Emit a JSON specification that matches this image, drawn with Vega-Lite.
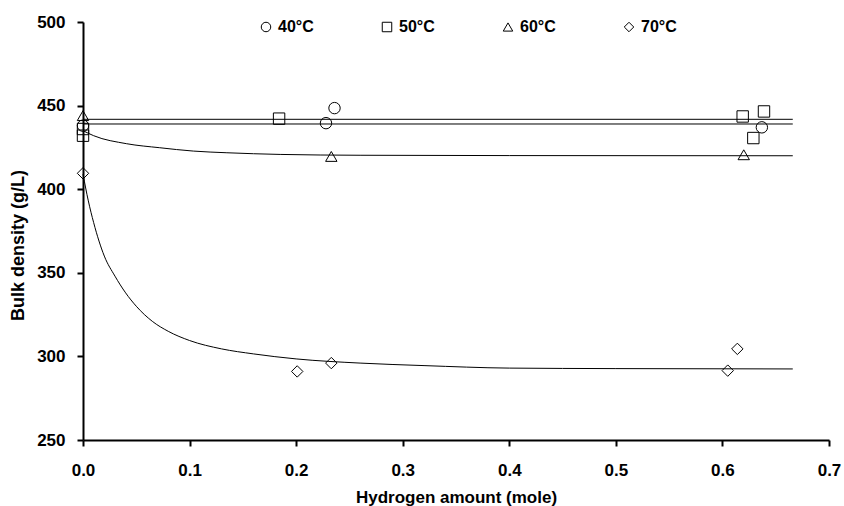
{
  "$schema": "https://vega.github.io/schema/vega-lite/v6.json",
  "width": 746,
  "height": 418,
  "autosize": {"type": "none"},
  "padding": {"left": 83, "top": 22, "right": 15, "bottom": 66},
  "background": "white",
  "config": {
    "view": {"stroke": null},
    "font": "Liberation Sans"
  },
  "datasets": {
    "points": [
      {"series": "40°C", "x": 0, "y": 438},
      {"series": "40°C", "x": 0.228, "y": 439.5},
      {"series": "40°C", "x": 0.236, "y": 448.5},
      {"series": "40°C", "x": 0.637, "y": 437},
      {"series": "50°C", "x": 0, "y": 436},
      {"series": "50°C", "x": 0, "y": 432},
      {"series": "50°C", "x": 0.184, "y": 442.2},
      {"series": "50°C", "x": 0.619, "y": 443.5},
      {"series": "50°C", "x": 0.639, "y": 446.5},
      {"series": "50°C", "x": 0.629, "y": 430.6},
      {"series": "60°C", "x": 0, "y": 444},
      {"series": "60°C", "x": 0.233, "y": 419.6},
      {"series": "60°C", "x": 0.62, "y": 420.6},
      {"series": "70°C", "x": 0, "y": 409.5},
      {"series": "70°C", "x": 0.201, "y": 291},
      {"series": "70°C", "x": 0.233, "y": 296},
      {"series": "70°C", "x": 0.614, "y": 304.5},
      {"series": "70°C", "x": 0.605, "y": 291.5}
    ],
    "fits": [
      {"series": "40°C", "x": 0, "y": 441.8},
      {"series": "40°C", "x": 0.666, "y": 441.8},
      {"series": "50°C", "x": 0, "y": 439},
      {"series": "50°C", "x": 0.666, "y": 439},
      {"series": "60°C", "x": 0, "y": 435},
      {"series": "60°C", "x": 0.01, "y": 432},
      {"series": "60°C", "x": 0.041, "y": 427.2},
      {"series": "60°C", "x": 0.072, "y": 424.8},
      {"series": "60°C", "x": 0.1035, "y": 422.8},
      {"series": "60°C", "x": 0.135, "y": 421.8},
      {"series": "60°C", "x": 0.185, "y": 420.8},
      {"series": "60°C", "x": 0.26, "y": 420.3},
      {"series": "60°C", "x": 0.4, "y": 420.1},
      {"series": "60°C", "x": 0.666, "y": 420},
      {"series": "70°C", "x": 0, "y": 409},
      {"series": "70°C", "x": 0.005, "y": 393},
      {"series": "70°C", "x": 0.01, "y": 380},
      {"series": "70°C", "x": 0.015, "y": 369},
      {"series": "70°C", "x": 0.02, "y": 360},
      {"series": "70°C", "x": 0.03, "y": 348},
      {"series": "70°C", "x": 0.04, "y": 338},
      {"series": "70°C", "x": 0.05, "y": 330},
      {"series": "70°C", "x": 0.065, "y": 321},
      {"series": "70°C", "x": 0.08, "y": 315},
      {"series": "70°C", "x": 0.1, "y": 309.5},
      {"series": "70°C", "x": 0.13, "y": 304.5},
      {"series": "70°C", "x": 0.16, "y": 301.5},
      {"series": "70°C", "x": 0.2, "y": 298.5},
      {"series": "70°C", "x": 0.26, "y": 296},
      {"series": "70°C", "x": 0.32, "y": 294.5},
      {"series": "70°C", "x": 0.4, "y": 293},
      {"series": "70°C", "x": 0.5, "y": 292.7},
      {"series": "70°C", "x": 0.666, "y": 292.5}
    ]
  },
  "encoding": {
    "x": {
      "field": "x",
      "type": "quantitative",
      "scale": {"domain": [0, 0.7], "nice": false, "zero": false},
      "axis": {
        "values": [0, 0.1, 0.2, 0.3, 0.4, 0.5, 0.6, 0.7],
        "format": ".1f",
        "title": "Hydrogen amount (mole)",
        "grid": false,
        "domainColor": "black",
        "domainWidth": 2,
        "tickColor": "black",
        "tickWidth": 2,
        "tickSize": 6,
        "labelFont": "Liberation Sans",
        "labelFontSize": 17,
        "labelFontWeight": "bold",
        "labelColor": "black",
        "labelPadding": 16,
        "labelOverlap": false,
        "labelFlush": false,
        "titleFont": "Liberation Sans",
        "titleFontSize": 17,
        "titleFontWeight": "bold",
        "titleColor": "black",
        "titlePadding": 11
      }
    },
    "y": {
      "field": "y",
      "type": "quantitative",
      "scale": {"domain": [250, 500], "nice": false, "zero": false},
      "axis": {
        "values": [250, 300, 350, 400, 450, 500],
        "format": "d",
        "title": "Bulk density (g/L)",
        "grid": false,
        "domainColor": "black",
        "domainWidth": 2,
        "tickColor": "black",
        "tickWidth": 2,
        "tickSize": 6,
        "labelFont": "Liberation Sans",
        "labelFontSize": 17,
        "labelFontWeight": "bold",
        "labelColor": "black",
        "labelPadding": 12,
        "labelOverlap": false,
        "labelFlush": false,
        "titleFont": "Liberation Sans",
        "titleFontSize": 18,
        "titleFontWeight": "bold",
        "titleColor": "black",
        "titlePadding": 9,
        "titleY": 223
      }
    }
  },
  "layer": [
    {
      "data": {"name": "fits"},
      "mark": {"type": "line", "interpolate": "monotone", "color": "black", "strokeWidth": 1},
      "encoding": {"detail": {"field": "series", "type": "nominal"}}
    },
    {
      "data": {"name": "points"},
      "mark": {"type": "point", "filled": false, "color": "black", "strokeWidth": 1, "size": 130, "opacity": 1},
      "encoding": {
        "shape": {
          "field": "series",
          "type": "nominal",
          "scale": {"domain": ["40°C", "50°C", "60°C", "70°C"], "range": ["circle", "square", "triangle-up", "diamond"]},
          "legend": {
            "orient": "none",
            "direction": "horizontal",
            "legendX": 175,
            "legendY": -3,
            "title": null,
            "padding": 0,
            "labelFont": "Liberation Sans",
            "labelFontSize": 16,
            "labelFontWeight": "bold",
            "labelColor": "black",
            "labelOffset": 4,
            "symbolSize": 90,
            "symbolStrokeColor": "black",
            "symbolStrokeWidth": 1,
            "symbolFillColor": "transparent",
            "columnPadding": 65
          }
        }
      }
    }
  ]
}
